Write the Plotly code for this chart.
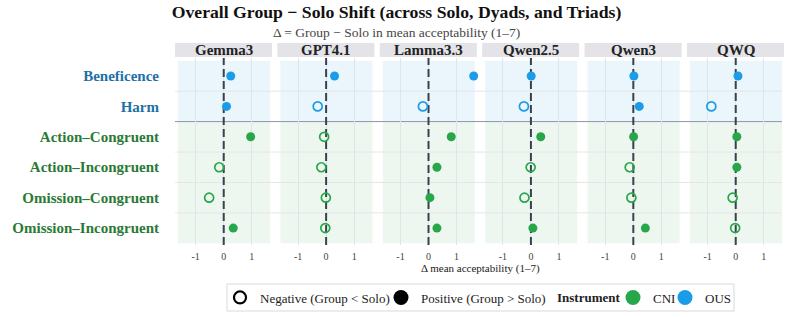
import plotly.graph_objects as go

# ---------------- data ----------------
models = ["Gemma3", "GPT4.1", "Lamma3.3", "Qwen2.5", "Qwen3", "QWQ"]
categories = ["Beneficence", "Harm", "Action–Congruent", "Action–Incongruent",
              "Omission–Congruent", "Omission–Incongruent"]
instrument = ["OUS", "OUS", "CNI", "CNI", "CNI", "CNI"]

gemma3 = [0.25, 0.10, 0.96, -0.16, -0.52, 0.34]
gpt41 = [0.30, -0.30, -0.07, -0.17, -0.01, -0.03]
lamma33 = [1.61, -0.20, 0.81, 0.30, 0.05, 0.30]
qwen25 = [0.01, -0.25, 0.35, -0.01, -0.23, 0.07]
qwen3 = [0.02, 0.21, 0.01, -0.13, -0.07, 0.43]
qwq = [0.08, -0.87, 0.04, 0.04, -0.11, -0.02]
series = [gemma3, gpt41, lamma33, qwen25, qwen3, qwq]

x_ticks = [-1, 0, 1]
x_ticklabels = ["-1", "0", "1"]

# ---------------- style ----------------
FONT = "Liberation Serif"
COL = {"CNI": "#27a74a", "OUS": "#1b9ce8"}
LABCOL = {"CNI": "#2a7a36", "OUS": "#1f70a6"}
BG = {"CNI": "#eef7ef", "OUS": "#eaf5fc"}

W, H = 793, 317
ML, MR, MT, MB = 178, 11, 58, 72
PW = W - ML - MR
PH = H - MT - MB
step_px, width_px = 102.4, 92.0
X_RANGE = [-1.63, 1.65]
Y_RANGE = [5.556, -0.59]


def px(x):
    return (x - ML) / PW


def py(y):
    return (MT + PH - y) / PH


fig = go.Figure()
layout = dict(
    width=W, height=H,
    margin=dict(l=ML, r=MR, t=MT, b=MB, pad=0, autoexpand=False),
    paper_bgcolor="white", plot_bgcolor="rgba(0,0,0,0)",
    font=dict(family=FONT, color="#222"),
    showlegend=True,
)

shapes = []
annotations = []
bands = [("OUS", -0.5, 1.5), ("CNI", 1.5, 5.5)]

for i, (m, vals) in enumerate(zip(models, series)):
    k = i + 1
    xa = "x" if k == 1 else f"x{k}"
    ya = "y" if k == 1 else f"y{k}"
    d0 = i * step_px / PW
    d1 = min(d0 + width_px / PW, 1.0)
    layout[f"xaxis{'' if k == 1 else k}"] = dict(
        domain=[d0, d1], range=X_RANGE, anchor=ya,
        tickmode="array", tickvals=x_ticks, ticktext=x_ticklabels,
        showgrid=True, gridcolor="#dce5ea", gridwidth=1,
        zeroline=False, showline=False,
        ticks="outside", ticklen=2, tickcolor="rgba(0,0,0,0)",
        tickfont=dict(family=FONT, size=10, color="#444"),
        fixedrange=True,
    )
    yax = dict(
        domain=[0, 1], anchor=xa, type="category",
        categoryorder="array", categoryarray=categories,
        range=Y_RANGE, showgrid=False, zeroline=False, showline=False,
        fixedrange=True,
    )
    if k == 1:
        yax.update(
            tickmode="array", tickvals=categories,
            ticktext=[f"<b><span style='color:{LABCOL[ins]}'>{c}</span></b>"
                      for c, ins in zip(categories, instrument)],
            tickfont=dict(family=FONT, size=15),
            ticks="outside", ticklen=15, tickcolor="rgba(0,0,0,0)",
        )
    else:
        yax.update(showticklabels=False, matches="y")
    layout[f"yaxis{'' if k == 1 else k}"] = yax

    # background bands
    for ins, y0, y1 in bands:
        shapes.append(dict(type="rect", xref="paper", x0=d0, x1=d1, yref="y",
                           y0=y0, y1=y1, fillcolor=BG[ins], line_width=0, layer="below"))
    # zero reference line
    shapes.append(dict(type="line", xref=xa, x0=0, x1=0, yref=ya, y0=Y_RANGE[0], y1=Y_RANGE[1],
                       line=dict(color="#38424d", width=2, dash="8px,4px"), layer="between"))
    # header strip
    shapes.append(dict(type="rect", xref="paper", x0=d0 - 3 / PW, x1=d1 + 2 / PW,
                       yref="paper", y0=1 + 1 / PH, y1=1 + 15 / PH,
                       fillcolor="#e3e3e8", line_width=0, layer="below"))
    annotations.append(dict(text=f"<b>{m}</b>", xref="paper", x=(d0 + d1) / 2,
                            yref="paper", y=1 + 8 / PH, yanchor="middle", xanchor="center",
                            showarrow=False, font=dict(family=FONT, size=15, color="#222")))

    # points
    pos_idx = [j for j, v in enumerate(vals) if v >= 0]
    neg_idx = [j for j, v in enumerate(vals) if v < 0]
    fig.add_trace(go.Scatter(
        x=[vals[j] for j in pos_idx], y=[categories[j] for j in pos_idx],
        xaxis=xa, yaxis=ya, mode="markers", showlegend=False, cliponaxis=False,
        marker=dict(symbol="circle", size=9,
                    color=[COL[instrument[j]] for j in pos_idx], line_width=0),
    ))
    fig.add_trace(go.Scatter(
        x=[vals[j] for j in neg_idx], y=[categories[j] for j in neg_idx],
        xaxis=xa, yaxis=ya, mode="markers", showlegend=False, cliponaxis=False,
        marker=dict(symbol="circle-open", size=9,
                    color=[COL[instrument[j]] for j in neg_idx], line=dict(width=1.7)),
    ))

# row boundary lines across all panels
for yb in [0.5, 2.5, 3.5, 4.5]:
    shapes.append(dict(type="line", xref="paper", x0=-3 / PW, x1=1.0, yref="y", y0=yb, y1=yb,
                       line=dict(color="#e4e6e8", width=1), layer="below"))
shapes.append(dict(type="line", xref="paper", x0=-3 / PW, x1=1.0, yref="y", y0=1.5, y1=1.5,
                   line=dict(color="#8c96a1", width=1), layer="below"))

# legend box
shapes.append(dict(type="rect", xref="paper", x0=px(227), x1=px(734),
                   yref="paper", y0=py(284), y1=py(311),
                   line=dict(color="#d9d9d9", width=1), fillcolor="rgba(0,0,0,0)"))

# legend entries
leg_items = [
    ("Negative (Group < Solo)", dict(symbol="circle-open", size=12, color="black", line=dict(width=2.2)), "legend", 220),
    ("Positive (Group > Solo)", dict(symbol="circle", size=15, color="black"), "legend2", 381),
    ("CNI", dict(symbol="circle", size=15, color=COL["CNI"]), "legend3", 613),
    ("OUS", dict(symbol="circle", size=15, color=COL["OUS"]), "legend4", 665),
]
LEG_Y = py(297.5)
for name, mk, lg, lx in leg_items:
    fig.add_trace(go.Scatter(x=[None], y=[None], mode="markers", name=name, marker=mk, legend=lg))
    layout[lg] = dict(orientation="h", x=px(lx), xanchor="left", y=LEG_Y, yanchor="middle",
                      bgcolor="rgba(0,0,0,0)", borderwidth=0,
                      font=dict(family=FONT, size=13, color="#222"),
                      itemclick=False, itemdoubleclick=False)
annotations.append(dict(text="<b>Instrument</b>", xref="paper", x=px(555), xanchor="left",
                        yref="paper", y=LEG_Y, yanchor="middle", showarrow=False,
                        font=dict(family=FONT, size=13, color="#222")))

# titles
layout["title"] = dict(text="<b>Overall Group − Solo Shift (across Solo, Dyads, and Triads)</b>",
                       x=0.5, xref="container", xanchor="center",
                       y=1 - 12 / H, yref="container", yanchor="middle",
                       font=dict(family=FONT, size=17.7, color="#111"))
annotations.append(dict(text="Δ = Group − Solo in mean acceptability (1–7)", xref="paper",
                        x=px(W / 2), yref="paper", y=py(32), yanchor="middle", xanchor="center",
                        showarrow=False, font=dict(family=FONT, size=13.5, color="#444")))
annotations.append(dict(text="Δ mean acceptability (1–7)", xref="paper", x=0.5,
                        yref="paper", y=py(268), yanchor="middle", xanchor="center",
                        showarrow=False, font=dict(family=FONT, size=11, color="#222")))

layout["shapes"] = shapes
layout["annotations"] = annotations
fig.update_layout(**layout)
fig.write_html("out.html", config={"displayModeBar": False},
               post_script="document.body.style.margin='0px';")
